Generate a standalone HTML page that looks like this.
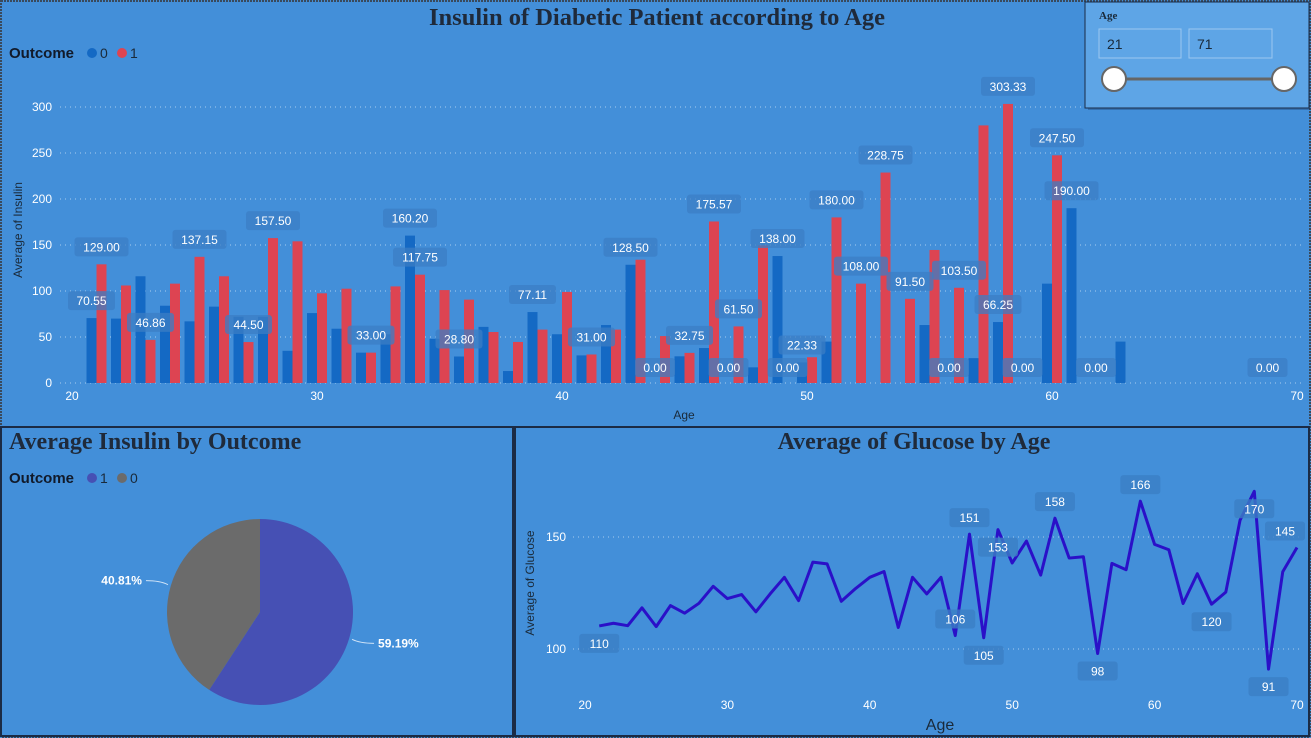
<!DOCTYPE html>
<html><head><meta charset="utf-8"><style>
html,body{margin:0;padding:0;background:#438fd9;width:1311px;height:738px;overflow:hidden}
svg{display:block;font-family:"Liberation Sans",sans-serif}
</style></head><body>
<svg id="s" width="1311" height="738" viewBox="0 0 1311 738" xmlns="http://www.w3.org/2000/svg">
<rect x="0" y="0" width="1311" height="738" fill="#438fd9"/>
<rect x="1" y="1" width="1309" height="736" fill="none" stroke="#3a4a5c" stroke-width="2" stroke-dasharray="2 1"/>
<g>
<text x="657" y="25" text-anchor="middle" font-family="Liberation Serif,serif" font-weight="bold" font-size="24.5" fill="#1f2a3a">Insulin of Diabetic Patient according to Age</text>
<g>
<text x="9" y="58" font-weight="bold" font-size="15" fill="#111a2a">Outcome</text>
<circle cx="92" cy="53" r="5" fill="#1469c4"/>
<text x="100" y="58" font-size="14" fill="#1a2a3a">0</text>
<circle cx="122" cy="53" r="5" fill="#dd4452"/>
<text x="130" y="58" font-size="14" fill="#1a2a3a">1</text>
</g>
<text transform="translate(22,230) rotate(-90)" text-anchor="middle" font-size="12" fill="#1a2a3a">Average of Insulin</text>
<text x="684" y="419" text-anchor="middle" font-size="12" fill="#1a2a3a">Age</text>
<g id="barGrid"></g><g id="bars"></g><g id="barLabels"></g>
</g>
<rect x="1" y="427" width="512" height="309" fill="none" stroke="#1b2b45" stroke-width="2"/>
<rect x="515" y="427" width="794" height="309" fill="none" stroke="#1b2b45" stroke-width="2"/>
<g>
<text x="9" y="449" font-family="Liberation Serif,serif" font-weight="bold" font-size="24" fill="#1f2a3a">Average Insulin by Outcome</text>
<g>
<text x="9" y="483" font-weight="bold" font-size="15" fill="#111a2a">Outcome</text>
<circle cx="92" cy="478" r="5" fill="#4650b4"/>
<text x="100" y="483" font-size="14" fill="#1a2a3a">1</text>
<circle cx="122" cy="478" r="5" fill="#6b6b6b"/>
<text x="130" y="483" font-size="14" fill="#1a2a3a">0</text>
</g>
<g id="pie"></g>
</g>
<g>
<text x="914" y="449" text-anchor="middle" font-family="Liberation Serif,serif" font-weight="bold" font-size="24" fill="#1f2a3a">Average of Glucose by Age</text>
<text transform="translate(534,583) rotate(-90)" text-anchor="middle" font-size="12" fill="#1a2a3a">Average of Glucose</text>
<text x="940" y="730" text-anchor="middle" font-size="16" fill="#1a2a3a">Age</text>
<g id="lineGrid"></g><g id="line"></g><g id="lineLabels"></g>
</g>
<g>
<rect x="1088" y="5" width="222" height="105" fill="#1b3a66" opacity="0.35"/>
<rect x="1085" y="2" width="224" height="106" fill="#5ea5e6" stroke="#1b2b45" stroke-width="1"/>
<text x="1099" y="19" font-family="Liberation Serif,serif" font-weight="bold" font-size="11" fill="#1a2a3a">Age</text>
<rect x="1099" y="29" width="82" height="29" fill="none" stroke="#9cc8f0"/>
<text x="1107" y="49" font-size="14" fill="#1a2a3a">21</text>
<rect x="1189" y="29" width="83" height="29" fill="none" stroke="#9cc8f0"/>
<text x="1197" y="49" font-size="14" fill="#1a2a3a">71</text>
<line x1="1114" y1="79" x2="1284" y2="79" stroke="#666" stroke-width="3"/>
<circle cx="1114" cy="79" r="12" fill="#fff" stroke="#666" stroke-width="2"/>
<circle cx="1284" cy="79" r="12" fill="#fff" stroke="#666" stroke-width="2"/>
</g>
</svg>
<script>
// ---- bar chart data ----
const ages = [21,22,23,24,25,26,27,28,29,30,31,32,33,34,35,36,37,38,39,40,41,42,43,44,45,46,47,48,49,50,51,52,53,54,55,56,57,58,59,60,61,62,63,69];
const insulin0 = [70.55,70,116,84,67,83,72,72,35,76,59,33,53,160.2,48,28.8,61,13,77.11,53,30,63,128.5,0,29,38,0,17,138,22.33,45,null,null,null,63,0,27,66.25,0,108,190,0,45,0];
const insulin1 = [129,106,46.86,108,137.15,116,44.5,157.5,154,97.5,102.5,33,105,117.75,101,90.6,55.4,44.6,58,99,31,58,134,51,32.75,175.57,61.5,149.6,0,28,180,108,228.75,91.5,144.6,103.5,280,303.33,null,247.5,null,null,null,null];
const labelled0 = [21,34,36,39,43,44,47,49,50,56,58,59,61,62,69];
const labelled1 = [21,23,25,27,28,32,34,41,45,46,47,49,51,52,53,54,56,58,60];
const barTicks = [0,50,100,150,200,250,300];
const ageTicks = [20,30,40,50,60,70];
// ---- pie data ----
const pieOutcomes = ['1','0'];
const piePercents = [59.19,40.81];
// ---- line data ----
const lineAges = [21,22,23,24,25,26,27,28,29,30,31,32,33,34,35,36,37,38,39,40,41,42,43,44,45,46,47,48,49,50,51,52,53,54,55,56,57,58,59,60,61,62,63,64,65,66,67,68,69,70];
const glucose = [110.3,111.5,110.4,118.4,110,119.4,116,120.4,128,122.5,124.3,116.6,124.6,132,121.6,138.8,138,121.3,127,132,134.6,109.6,132,124.6,132,106,151.3,105,153.3,138.4,148.2,133,158.4,140.6,141.2,98,138.2,135.4,166,146.7,144.3,120.3,133.6,120,125.4,157.5,170.4,91,134.5,145.3];
const glucoseLabelAges = [21,46,47,48,49,53,56,59,64,67,68,70];
const glucoseLabelBelow = [true,false,false,true,true,false,true,false,true,true,true,false];
const glucoseTicks = [100,150];

const NS='http://www.w3.org/2000/svg';
function mk(tag,attrs,parent){const e=document.createElementNS(NS,tag);for(const k in attrs)e.setAttribute(k,attrs[k]);parent.appendChild(e);return e;}
const $=id=>document.getElementById(id);

const bx=a=>72+(a-20)*24.5;
const by=v=>383-v*0.92;
ageTicks.forEach(t=>{const e=mk('text',{x:bx(t),y:400,'text-anchor':'middle','font-size':12,fill:'#fff'},$('barGrid'));e.textContent=t;

});
barTicks.forEach(t=>{mk('line',{x1:60,x2:1305,y1:by(t),y2:by(t),stroke:'#a8cdf0','stroke-width':1,'stroke-dasharray':'1 4'},$('barGrid'));
const e=mk('text',{x:52,y:by(t)+4,'text-anchor':'end','font-size':12,fill:'#fff'},$('barGrid'));e.textContent=t;

});
function barLabel(x,v){const ty=v===0?368:by(v)-17;const txt=v.toFixed(2);const w=txt.length*7+12;
const r=mk('rect',{x:x-w/2,y:ty-10,width:w,height:19,rx:3,fill:'#3b7ec4','fill-opacity':0.75},$('barLabels'));


const t=mk('text',{x:x,y:ty+4,'text-anchor':'middle','font-size':12,fill:'#fff'},$('barLabels'));t.textContent=txt;

}
ages.forEach((a,i)=>{
 const v0=insulin0[i],v1=insulin1[i];
 if(v0!==null&&v0>0){const r=mk('rect',{x:bx(a)-10,y:by(v0),width:10,height:383-by(v0),fill:'#1469c4'},$('bars'));
 
 }
 if(v1!==null&&v1>0){const r=mk('rect',{x:bx(a),y:by(v1),width:10,height:383-by(v1),fill:'#dd4452'},$('bars'));
 
 }
 if(labelled0.includes(a)&&v0!==null)barLabel(bx(a)-5,v0);
 if(labelled1.includes(a)&&v1!==null)barLabel(bx(a)+5,v1);
});

const cx=260,cy=612,R=93;const cols=['#4650b4','#6b6b6b'];let ang=0;
piePercents.forEach((p,i)=>{const a0=ang,a1=ang+p/100*2*Math.PI;ang=a1;
 const P=a=>[cx+R*Math.sin(a),cy-R*Math.cos(a)];const[x0,y0]=P(a0),[x1,y1]=P(a1);
 const pth=mk('path',{d:`M${cx},${cy}L${x0},${y0}A${R},${R} 0 ${a1-a0>Math.PI?1:0} 1 ${x1},${y1}Z`,fill:cols[i]},$('pie'));
 
 
 const mid=(a0+a1)/2;const[ex,ey]=[cx+(R+3)*Math.sin(mid),cy-(R+3)*Math.cos(mid)];
 const left=Math.sin(mid)<0;const lx=ex+(left?-8:8),ly=ey+(left?-4:4);const lx2=lx+(left?-14:14);
 mk('path',{d:`M${ex},${ey}Q${lx},${ly} ${lx2},${ly}`,fill:'none',stroke:'#cfe3f7','stroke-width':1},$('pie'));
 const t=mk('text',{x:lx2+(left?-4:4),y:ly+4,'text-anchor':left?'end':'start','font-size':12,'font-weight':'bold',fill:'#fff'},$('pie'));
 t.textContent=p.toFixed(2)+'%';
 
 
});

const lx=a=>585+(a-20)*14.24;
const ly=v=>649-(v-100)*2.24;
glucoseTicks.forEach(t=>{mk('line',{x1:573,x2:1302,y1:ly(t),y2:ly(t),stroke:'#a8cdf0','stroke-width':1,'stroke-dasharray':'1 4'},$('lineGrid'));
const e=mk('text',{x:566,y:ly(t)+4,'text-anchor':'end','font-size':12,fill:'#fff'},$('lineGrid'));e.textContent=t;

});
ageTicks.forEach(t=>{const e=mk('text',{x:lx(t),y:709,'text-anchor':'middle','font-size':12,fill:'#fff'},$('lineGrid'));e.textContent=t;

});
const pts=lineAges.map((a,i)=>lx(a)+','+ly(glucose[i])).join(' ');
const pl=mk('polyline',{points:pts,fill:'none',stroke:'#2a10c8','stroke-width':3,'stroke-linejoin':'round'},$('line'));


glucoseLabelAges.forEach((a,k)=>{const i=lineAges.indexOf(a);const v=glucose[i];let x=lx(a);if(x>1285)x=1285;
 const y=glucoseLabelBelow[k]?ly(v)+18:ly(v)-16;const txt=String(Math.round(v));
 const r=mk('rect',{x:x-20,y:y-10,width:40,height:19,rx:3,fill:'#3b7ec4','fill-opacity':0.8},$('lineLabels'));
 
 
 const t=mk('text',{x:x,y:y+4,'text-anchor':'middle','font-size':12,fill:'#fff'},$('lineLabels'));t.textContent=txt;
 
 
});
</script>
</body></html>
